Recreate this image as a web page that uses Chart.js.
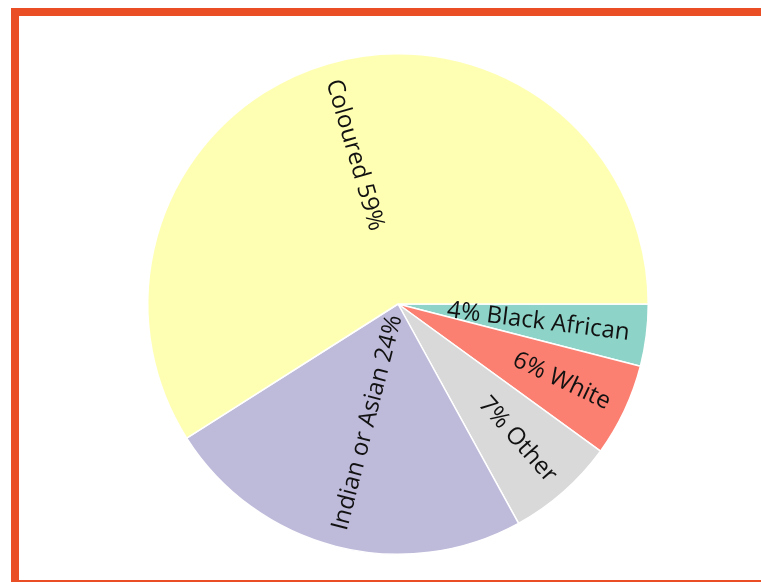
<!DOCTYPE html>
<html>
<head>
<meta charset="utf-8">
<script src="https://cdn.jsdelivr.net/npm/chart.js@4/dist/chart.umd.min.js"></script>
<style>
    html, body { margin: 0; padding: 0; background: #fff; overflow: hidden; }
    #frame {
        position: absolute; left: 11px; top: 8px; width: 800px; height: 580px;
        box-sizing: border-box; border: 8px solid #e94e24; border-right: none;
    }
    #wrap { position: absolute; left: 0; top: 0; width: 761px; height: 582px; }
</style>
</head>
<body>
<div id="frame"></div>
<div id="wrap"><canvas id="myPieChart" width="761" height="582"></canvas></div>
<script>
// population groups, percent of total
var categories = ['Black African', 'White', 'Other', 'Indian or Asian', 'Coloured'];
var shares = [4, 6, 7, 24, 59];
var sliceColors = ['#8dd3c7', '#fb8072', '#d9d9d9', '#bebada', '#ffffb3'];

// writes each label along the radius of its slice, ending near the rim
var radialLabels = {
    id: 'radialLabels',
    afterDatasetsDraw: function(chart) {
        var ctx = chart.ctx;
        var meta = chart.getDatasetMeta(0);
        ctx.save();
        ctx.font = '24px "Open Sans", "Noto Sans", sans-serif';
        ctx.fillStyle = '#111';
        ctx.textBaseline = 'middle';
        meta.data.forEach(function(arc, i) {
            var p = arc.getProps(['x', 'y', 'startAngle', 'endAngle', 'outerRadius'], true);
            var mid = (p.startAngle + p.endAngle) / 2;
            var r = p.outerRadius - 17;
            var px = p.x + Math.cos(mid) * r;
            var py = p.y + Math.sin(mid) * r;
            var pct = shares[i] + '%';
            ctx.save();
            ctx.translate(px, py);
            if (Math.cos(mid) >= 0) {
                ctx.rotate(mid);
                ctx.textAlign = 'right';
                ctx.fillText(pct + ' ' + categories[i], 0, 0);
            } else {
                ctx.rotate(mid + Math.PI);
                ctx.textAlign = 'left';
                ctx.fillText(categories[i] + ' ' + pct, 0, 0);
            }
            ctx.restore();
        });
        ctx.restore();
    }
};

window.onload = function() {
    var ctx = document.getElementById('myPieChart').getContext('2d');
    var myPieChart = new Chart(ctx, {
        type: 'pie',
        data: {
            labels: categories,
            datasets: [{
                data: shares,
                backgroundColor: sliceColors,
                borderColor: '#ffffff',
                borderWidth: 1.5
            }]
        },
        options: {
            responsive: false,
            animation: false,
            rotation: 90, // first slice starts at 3 o'clock
            layout: { padding: { left: 147, right: 112, top: 53, bottom: 27 } },
            events: [],
            plugins: {
                legend: { display: false },
                tooltip: { enabled: false }
            }
        },
        plugins: [radialLabels]
    });
};
</script>
</body>
</html>
